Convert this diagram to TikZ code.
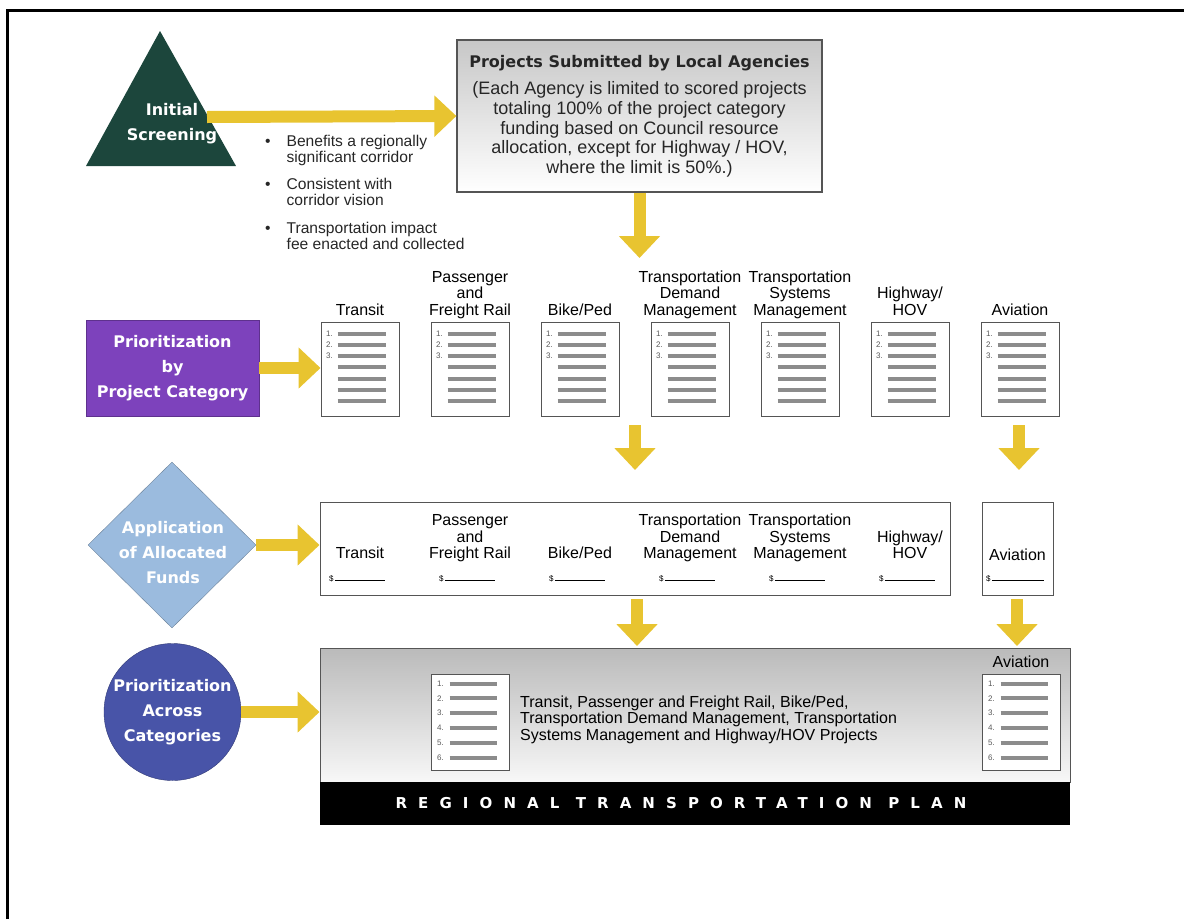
\documentclass[tikz,border=0pt]{standalone}
\usepackage{fontspec}
\setmainfont{Liberation Sans}
\newfontfamily\headfont{DejaVu Sans}
\newfontfamily\bandfont{DejaVu Sans}[LetterSpace=74]
\usetikzlibrary{arrows.meta, positioning, shapes.geometric}

\definecolor{arrowyellow}{RGB}{232,196,48}
\definecolor{screengreen}{RGB}{28,70,60}
\definecolor{catpurple}{RGB}{125,66,188}
\definecolor{fundblue}{RGB}{155,187,222}
\definecolor{acrossblue}{RGB}{72,84,168}
\definecolor{boxline}{RGB}{85,85,85}
\definecolor{bargray}{RGB}{140,140,140}

\begin{document}
\begin{tikzpicture}[x=1pt, y=-1pt, line cap=butt]

% --------- styles ----------
\tikzset{
  yarrow/.style={draw=arrowyellow, line width=12pt, -{Triangle[length=22pt, width=40pt]}},
  head/.style={text=white, align=center, inner sep=0pt, font=\headfont\bfseries\fontsize{16}{25}\selectfont},
  doc/.style={draw=boxline, line width=1pt, fill=white, minimum width=78pt, minimum height=94pt, inner sep=0pt},
  bar/.style={draw=bargray, line width=4pt},
  num/.style={inner sep=0pt, text=black!65, font=\fontsize{8}{8}\selectfont},
  catlbl/.style={align=center, inner sep=0pt, anchor=south, font=\fontsize{16}{16.5}\selectfont, execute at end node=\strut},
  fundbox/.style={draw=boxline, line width=1pt, fill=white, minimum height=93pt, inner sep=0pt},
  dollar/.style={anchor=base west, inner sep=0pt, font=\fontsize{8}{8}\selectfont}
}
\def\colw{110}   % column spacing
\def\colx{360}   % centre of first column

\useasboundingbox (0,0) rectangle (1184,919);
\draw[line width=3pt] (7.5,919) -- (7.5,10) -- (1184,10);

% ===================== initial screening =====================
\fill[screengreen] (86,166) -- (160,31) -- (236,166) -- cycle;
\coordinate (scrE) at (207,117);

\node[draw=boxline, line width=1.2pt, top color=black!22, bottom color=white,
      minimum width=365pt, minimum height=152pt, inner sep=0pt, align=center,
      text=black!85, font=\fontsize{18}{19.6}\selectfont] (sub) at (639.5,116)
  {{\headfont\bfseries\fontsize{16}{19.6}\selectfont Projects Submitted by Local Agencies}\\[8pt]
   (Each Agency is limited to scored projects\\
   totaling 100\% of the project category\\
   funding based on Council resource\\
   allocation, except for Highway / HOV,\\
   where the limit is 50\%.)};

\draw[yarrow] (scrE) -- (sub.west);
\node[head] (scr) at (172,124) {Initial\\Screening};

% criteria
\node[anchor=base west, inner sep=0pt, text=black!85, font=\fontsize{15.6}{15.5}\selectfont] (crit) at (265,146.5)
  {\begin{tabular}[t]{@{}l@{\hspace{16pt}}l@{}}
   \textbullet & Benefits a regionally\\ & significant corridor\\[11.5pt]
   \textbullet & Consistent with\\ & corridor vision\\[11.5pt]
   \textbullet & Transportation impact\\ & fee enacted and collected
   \end{tabular}};

\coordinate (subEnd) at (639.5,258);
\draw[yarrow] (sub.south) -- (subEnd);

% ===================== prioritization by project category =====================
\node[head, draw=catpurple!75!black, fill=catpurple, minimum width=173pt, minimum height=96pt] (pbc)
  at (172.5,368) {Prioritization\\by\\Project Category};

\foreach \n/\t [count=\i from 0] in {trn/Transit, prl/{Passenger\\and\\Freight Rail}, bkp/{Bike/Ped},
    tdm/{Transportation\\Demand\\Management}, tsm/{Transportation\\Systems\\Management},
    hwy/{Highway/\\HOV}, avi/Aviation}{
  \node[doc] (l1\n) at ({\colx+\colw*\i},369) {};
  \node[catlbl, above=1pt of l1\n] (t1\n) {\t};
  \begin{scope}[shift={(l1\n.north west)}]
    \foreach \k in {0,...,6} \draw[bar] (17,{12+11.3*\k}) -- (65,{12+11.3*\k});
    \foreach \k in {1,2,3} \node[num] at (9,{12+11.3*(\k-1)}) {\k.};
  \end{scope}
}

\draw[yarrow] (pbc.east) -- (pbc.east -| l1trn.west);

\coordinate (r1MidA) at (635,425);  \coordinate (r1MidB) at (635,470);
\coordinate (r1AviA) at (1019,425); \coordinate (r1AviB) at (1019,470);
\draw[yarrow] (r1MidA) -- (r1MidB);
\draw[yarrow] (r1AviA) -- (r1AviB);

% ===================== application of allocated funds =====================
\node[diamond, draw=fundblue!70!black, fill=fundblue, minimum width=168pt, minimum height=166pt, inner sep=0pt] (afd)
  at (172,545) {};
\node[head] (afdt) at (173,552.5) {Application\\of Allocated\\Funds};

\node[fundbox, minimum width=630pt] (fund) at (635,548.5) {};
\node[fundbox, minimum width=71pt] (fundav) at (1017.5,548.5) {};

\foreach \n/\t [count=\i from 0] in {trn/Transit, prl/{Passenger\\and\\Freight Rail}, bkp/{Bike/Ped},
    tdm/{Transportation\\Demand\\Management}, tsm/{Transportation\\Systems\\Management},
    hwy/{Highway/\\HOV}}{
  \node[catlbl] (t2\n) at ({\colx+\colw*\i},564) {\t};
  \node[dollar] (d2\n) at ({329+\colw*\i},581) {\$\,\rule{50pt}{0.6pt}};
}
\node[catlbl] (t2avi) at (1017.5,566) {Aviation};
\node[dollar] (d2avi) at (986,581) {\$\,\rule{52pt}{0.6pt}};

\draw[yarrow] (afd.east) -- (afd.east -| fund.west);

\coordinate (r2MidA) at (637,599);  \coordinate (r2MidB) at (637,646);
\coordinate (r2AviA) at (1017,599); \coordinate (r2AviB) at (1017,646);
\draw[yarrow] (r2MidA) -- (r2MidB);
\draw[yarrow] (r2AviA) -- (r2AviB);

% ===================== prioritization across categories =====================
\node[head, circle, draw=acrossblue!70!black, fill=acrossblue, minimum size=137pt] (pac)
  at (172.5,712) {Prioritization\\Across\\Categories};

\node[draw=boxline, line width=1pt, top color=black!27, bottom color=black!3,
      minimum width=750pt, minimum height=134pt, inner sep=0pt] (rtp) at (695,715) {};
\node[fill=black, minimum width=750pt, minimum height=43pt, inner sep=0pt, text=white,
      font=\bandfont\bfseries\fontsize{15}{15}\selectfont] (band) at (695,803.5)
  {REGIONAL TRANSPORTATION PLAN\kern28pt};

\node[doc, minimum height=96pt] (l3all) at (470,722) {};
\begin{scope}[shift={(l3all.north west)}]
  \foreach \k in {0,...,5} \draw[bar] (19,{10+14.8*\k}) -- (66,{10+14.8*\k});
  \foreach \k in {1,...,6} \node[num] at (10,{10+14.8*(\k-1)}) {\k.};
\end{scope}
\node[anchor=west, align=left, inner sep=0pt, font=\fontsize{16}{16.5}\selectfont] (l3txt) at (520,719.5)
  {Transit, Passenger and Freight Rail, Bike/Ped,\\
   Transportation Demand Management, Transportation\\
   Systems Management and Highway/HOV Projects};

\node[doc, minimum height=96pt] (l3avi) at (1021,722) {};
\node[catlbl, above=1pt of l3avi] (t3avi) {Aviation};
\begin{scope}[shift={(l3avi.north west)}]
  \foreach \k in {0,...,5} \draw[bar] (19,{10+14.8*\k}) -- (66,{10+14.8*\k});
  \foreach \k in {1,...,6} \node[num] at (10,{10+14.8*(\k-1)}) {\k.};
\end{scope}

\draw[yarrow] (pac.east) -- (pac.east -| rtp.west);

\end{tikzpicture}
\end{document}
